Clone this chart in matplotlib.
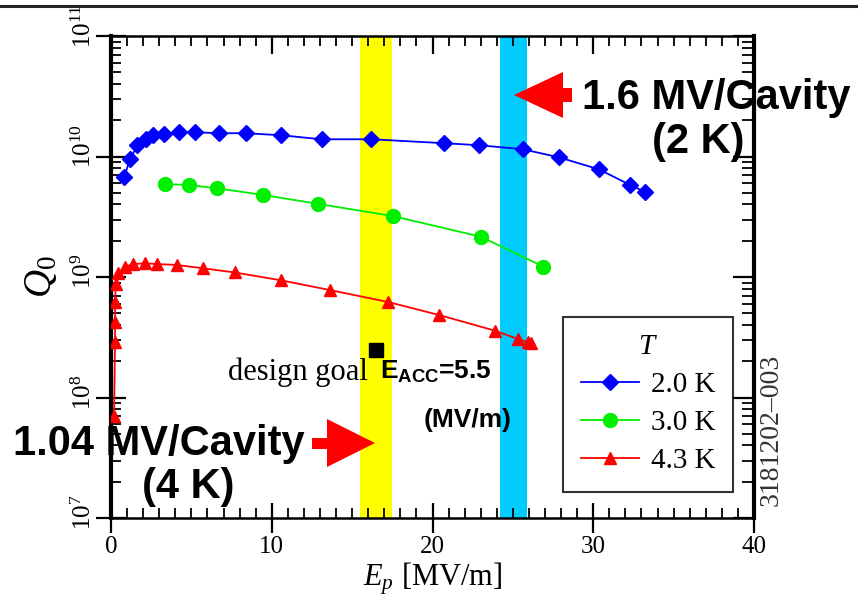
import numpy as np
import matplotlib
matplotlib.use("Agg")
import matplotlib.pyplot as plt
from matplotlib.patches import Polygon
from matplotlib.lines import Line2D
from matplotlib.transforms import ScaledTranslation
from matplotlib.ticker import MultipleLocator, LogLocator, NullFormatter

plt.rcParams['font.family'] = ['Liberation Serif', 'DejaVu Serif']
plt.rcParams['mathtext.fontset'] = 'custom'
plt.rcParams['mathtext.rm'] = 'Liberation Serif'
plt.rcParams['mathtext.it'] = 'Liberation Serif:italic'
plt.rcParams['mathtext.bf'] = 'Liberation Sans:bold'

# Q0 vs Ep data
blue_x = [0.83, 1.18, 1.64, 2.16, 2.63, 3.32, 4.23, 5.22, 6.70, 8.38, 10.6,
          13.1, 16.2, 20.7, 22.9, 25.6, 27.86, 30.35, 32.3, 33.2]
blue_y = [6.8e9, 9.5e9, 1.24e10, 1.39e10, 1.50e10, 1.53e10, 1.59e10, 1.59e10,
          1.56e10, 1.56e10, 1.50e10, 1.39e10, 1.39e10, 1.29e10, 1.24e10,
          1.15e10, 9.85e9, 7.83e9, 5.8e9, 5.1e9]

green_x = [3.36, 4.85, 6.57, 9.47, 12.9, 17.56, 23.0, 26.9]
green_y = [5.9e9, 5.8e9, 5.45e9, 4.8e9, 4.04e9, 3.2e9, 2.16e9, 1.22e9]

red_x = [0.19, 0.25, 0.25, 0.25, 0.3, 0.46, 0.87, 1.39, 2.11, 2.84, 4.08,
         5.74, 7.71, 10.55, 13.6, 17.25, 20.4, 23.9, 25.33, 25.95, 26.1]
red_y = [7.0e7, 2.9e8, 4.25e8, 6.2e8, 8.8e8, 1.07e9, 1.22e9, 1.28e9, 1.30e9,
         1.28e9, 1.26e9, 1.18e9, 1.09e9, 9.4e8, 7.8e8, 6.2e8, 4.84e8, 3.58e8,
         3.05e8, 2.87e8, 2.82e8]

goal_x = [16.5]
goal_y = [2.48e8]

yellow_band = (15.5, 17.45)
cyan_band = (24.2, 25.9)

labels = ['2.0 K', '3.0 K', '4.3 K']
xticks = [0, 10, 20, 30, 40]
yticks = [1e7, 1e8, 1e9, 1e10, 1e11]
ytick_labels = ['$10^{7}$', '$10^{8}$', '$10^{9}$', '$10^{10}$', '$10^{11}$']

W, H = 858, 605
fig = plt.figure(figsize=(W / 100, H / 100), dpi=100)
ax = fig.add_axes([111 / W, 87 / H, 643 / W, 482 / H])

def px(x, y):
    # pixel (from top-left) -> figure fraction
    return (x / W, 1 - y / H)

ax.axvspan(*yellow_band, color='#FFFF00', zorder=0, lw=0)
ax.axvspan(*cyan_band, color='#00CCFF', zorder=0, lw=0)

ax.plot(blue_x, blue_y, color='#0000FF', lw=1.3, marker='D', ms=8,
        label=labels[0], zorder=3)
ax.plot(green_x, green_y, color='#00EE00', lw=1.3, marker='o', ms=10,
        label=labels[1], zorder=3)
ax.plot(red_x, red_y, color='#FF0000', lw=1.3, marker='^', ms=9,
        label=labels[2], zorder=3)
ax.plot(goal_x, goal_y, ls='none', marker='s', ms=10, color='black', zorder=4)

ax.set_yscale('log')
ax.set_xlim(0, 40)
ax.set_ylim(1e7, 1e11)
ax.set_xticks(xticks)
ax.xaxis.set_minor_locator(MultipleLocator(1))
ax.set_yticks(yticks)
ax.set_yticklabels([])
ax.yaxis.set_minor_locator(LogLocator(base=10, subs=np.arange(2, 10), numticks=20))
ax.yaxis.set_minor_formatter(NullFormatter())

ax.tick_params(which='major', direction='inout', length=22, width=1.6,
               labelsize=18, pad=2)
ax.tick_params(which='minor', direction='in', length=7, width=1.3)

# rotated y labels, with the "10" sitting on the tick
ylab_tr = ax.get_yaxis_transform() + ScaledTranslation(0, -0.12, fig.dpi_scale_trans)
for v, s in zip(yticks, ytick_labels):
    ax.text(-0.031, v, s, transform=ylab_tr, rotation=90, rotation_mode='anchor',
            ha='left', va='baseline', fontsize=18, clip_on=False)

for side in ['top', 'bottom']:
    ax.spines[side].set_linewidth(1.8)
for side in ['left', 'right']:
    ax.spines[side].set_linewidth(3.0)

# mirrored ticks on top and right, inward only
top = ax.secondary_xaxis('top')
top.set_xticks(xticks)
top.xaxis.set_minor_locator(MultipleLocator(1))
top.tick_params(which='major', direction='in', length=13, width=1.6, labeltop=False)
top.tick_params(which='minor', direction='in', length=7, width=1.3)
top.spines['top'].set_visible(False)

right = ax.secondary_yaxis('right')
right.set_yticks(yticks)
right.yaxis.set_minor_locator(LogLocator(base=10, subs=np.arange(2, 10), numticks=20))
right.yaxis.set_minor_formatter(NullFormatter())
right.tick_params(which='major', direction='in', length=15, width=1.6, labelright=False)
right.tick_params(which='minor', direction='in', length=9, width=1.3)
right.spines['right'].set_visible(False)

ax.set_xlabel('$E_p$ [MV/m]', fontsize=22, labelpad=2)
ax.set_ylabel('$Q_0$', fontsize=28, labelpad=24)

leg = ax.legend(title='$T$', loc='lower right', bbox_to_anchor=(0.967, 0.054),
                borderaxespad=0, fontsize=21, title_fontsize=21, frameon=True,
                fancybox=False, edgecolor='black', handlelength=2.0,
                labelspacing=0.4, borderpad=0.6, handletextpad=0.4)
leg.get_frame().set_linewidth(1.5)

# annotations
fig.text(*px(228, 380), 'design goal', fontsize=22, va='baseline', ha='left')
fig.text(*px(380, 379), r'$\mathbf{E_{ACC}}$=5.5', fontsize=19,
         family='Liberation Sans', fontweight='bold', va='baseline', ha='left')
fig.text(*px(424, 427), '(MV/m)', fontsize=19, fontweight='bold',
         family='Liberation Sans', va='baseline', ha='left')

fig.text(*px(582, 109), '1.6 MV/Cavity', fontsize=30, fontweight='bold',
         family='Liberation Sans', va='baseline', ha='left', zorder=10)
fig.text(*px(652, 153), '(2 K)', fontsize=30, fontweight='bold',
         family='Liberation Sans', va='baseline', ha='left', zorder=10)
fig.text(*px(13, 455), '1.04 MV/Cavity', fontsize=30, fontweight='bold',
         family='Liberation Sans', va='baseline', ha='left', zorder=10)
fig.text(*px(142, 498), '(4 K)', fontsize=30, fontweight='bold',
         family='Liberation Sans', va='baseline', ha='left', zorder=10)

arrow_top = [(514, 95), (563, 72), (563, 88), (572, 88), (572, 102),
             (563, 102), (563, 118)]
arrow_bot = [(375, 443), (327, 419), (327, 438), (312, 438), (312, 449),
             (327, 449), (327, 467)]
for pts in (arrow_top, arrow_bot):
    fig.add_artist(Polygon([px(x, y) for x, y in pts], closed=True,
                           facecolor='#FF0000', edgecolor='none',
                           transform=fig.transFigure, zorder=11))

fig.text(*px(771, 430), '3181202\u2013003', fontsize=20, rotation=90,
         va='center', ha='center', color='#333333')

# rule across the top of the slide
fig.add_artist(Line2D([0, 1], [1 - 6 / H, 1 - 6 / H], color='#222222', lw=2.2,
                      transform=fig.transFigure))

fig.savefig('out.png', dpi=100)
